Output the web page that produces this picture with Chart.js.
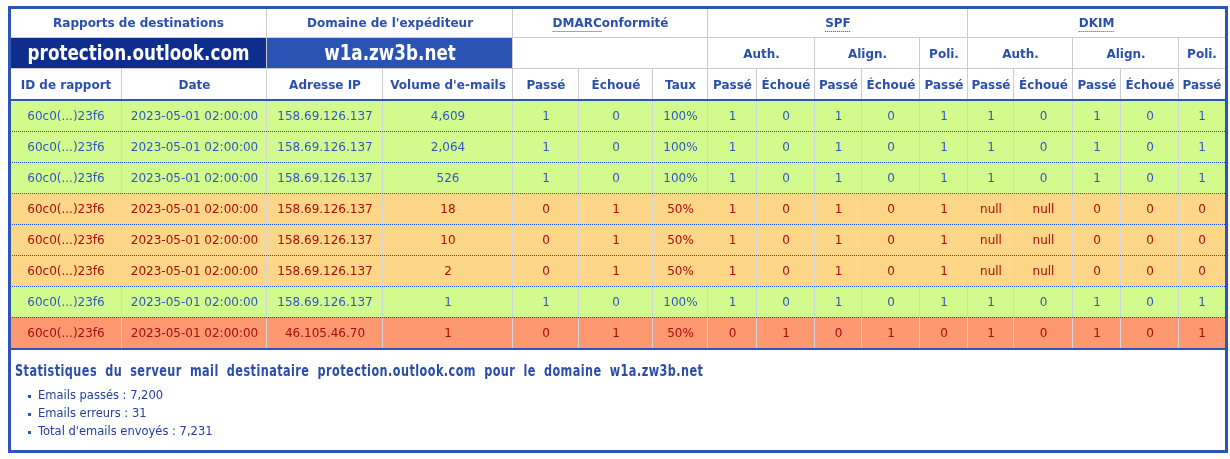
<!DOCTYPE html>
<html>
<head>
<meta charset="utf-8">
<script src="https://cdn.jsdelivr.net/npm/chart.js@4.4.0/dist/chart.umd.min.js"></script>
<style>
  html, body { margin: 0; padding: 0; background: #fff; }
  canvas { display: block; }
</style>
</head>
<body>
<canvas id="dmarc" width="1230" height="459"></canvas>
<script>
// --- data ---
var destination = 'protection.outlook.com';
var senderDomain = 'w1a.zw3b.net';

var reportIds = ['60c0(...)23f6', '60c0(...)23f6', '60c0(...)23f6', '60c0(...)23f6',
                 '60c0(...)23f6', '60c0(...)23f6', '60c0(...)23f6', '60c0(...)23f6'];
var dates = ['2023-05-01 02:00:00', '2023-05-01 02:00:00', '2023-05-01 02:00:00', '2023-05-01 02:00:00',
             '2023-05-01 02:00:00', '2023-05-01 02:00:00', '2023-05-01 02:00:00', '2023-05-01 02:00:00'];
var ipAddresses = ['158.69.126.137', '158.69.126.137', '158.69.126.137', '158.69.126.137',
                   '158.69.126.137', '158.69.126.137', '158.69.126.137', '46.105.46.70'];
var volumes = [4609, 2064, 526, 18, 10, 2, 1, 1];
var dmarcPass = [1, 1, 1, 0, 0, 0, 1, 0];
var dmarcFail = [0, 0, 0, 1, 1, 1, 0, 1];
var dmarcRate = ['100%', '100%', '100%', '50%', '50%', '50%', '100%', '50%'];
var spfAuthPass = [1, 1, 1, 1, 1, 1, 1, 0];
var spfAuthFail = [0, 0, 0, 0, 0, 0, 0, 1];
var spfAlignPass = [1, 1, 1, 1, 1, 1, 1, 0];
var spfAlignFail = [0, 0, 0, 0, 0, 0, 0, 1];
var spfPolicyPass = [1, 1, 1, 1, 1, 1, 1, 0];
var dkimAuthPass = [1, 1, 1, null, null, null, 1, 1];
var dkimAuthFail = [0, 0, 0, null, null, null, 0, 0];
var dkimAlignPass = [1, 1, 1, 0, 0, 0, 1, 1];
var dkimAlignFail = [0, 0, 0, 0, 0, 0, 0, 0];
var dkimPolicyPass = [1, 1, 1, 0, 0, 0, 1, 1];

// header texts
var groupHeaders = ['Rapports de destinations', "Domaine de l'expéditeur", 'DMARConformité', 'SPF', 'DKIM'];
var groupAbbr = ['', '', 'DMARC', 'SPF', 'DKIM'];
var groupSpans = [2, 2, 3, 5, 5];
var subHeaders = [destination, senderDomain, '', 'Auth.', 'Align.', 'Poli.', 'Auth.', 'Align.', 'Poli.'];
var subSpans = [2, 2, 3, 2, 2, 1, 2, 2, 1];
var columnHeaders = ['ID de rapport', 'Date', 'Adresse IP', "Volume d'e-mails",
                     'Passé', 'Échoué', 'Taux', 'Passé', 'Échoué', 'Passé', 'Échoué', 'Passé',
                     'Passé', 'Échoué', 'Passé', 'Échoué', 'Passé'];

// layout: column widths (x scale units)
var columnWidths = [112, 145, 116, 130, 66, 74, 55, 49, 58, 47, 58, 48, 46, 59, 48, 58, 46];

var edges = [0];
columnWidths.forEach(function(w) { edges.push(edges[edges.length - 1] + w); });
var tableWidth = edges[edges.length - 1];

var rowKeys = ['g', 's', 'c'].concat(reportIds.map(function(_, i) { return 'r' + i; }));

function rowStatus(i) {
    if (dmarcPass[i]) return 'pass';
    return spfAuthPass[i] ? 'partial' : 'fail';
}

var fills = {pass: '#d3fa8c', partial: '#fed687', fail: '#fe9870'};
var inks = {pass: '#3058c4', partial: '#a80c0c', fail: '#a80c0c'};
var HEAD_INK = '#2b4fae';
var FRAME = '#2d55b5';

function spanCells(texts, spans, key, kind) {
    var cells = [], col = 0;
    texts.forEach(function(t, i) {
        cells.push({x: [edges[col], edges[col + spans[i]]], y: key, text: t, kind: kind, idx: i});
        col += spans[i];
    });
    return cells;
}

var columns = [reportIds, dates, ipAddresses,
    volumes.map(function(v) { return v.toLocaleString('en-US'); }),
    dmarcPass, dmarcFail, dmarcRate,
    spfAuthPass, spfAuthFail, spfAlignPass, spfAlignFail, spfPolicyPass,
    dkimAuthPass, dkimAuthFail, dkimAlignPass, dkimAlignFail, dkimPolicyPass];

var rows = [
    spanCells(groupHeaders, groupSpans, 'g', 'g'),
    spanCells(subHeaders, subSpans, 's', 's'),
    spanCells(columnHeaders, columnWidths.map(function() { return 1; }), 'c', 'c')
];
reportIds.forEach(function(_, r) {
    var texts = columns.map(function(col) { return col[r] === null ? 'null' : String(col[r]); });
    var cells = spanCells(texts, columnWidths.map(function() { return 1; }), 'r' + r, 'd');
    cells.forEach(function(c) { c.status = rowStatus(r); });
    rows.push(cells);
});

function drawSqueezed(ctx, text, cx, cy, sx) {
    ctx.save();
    ctx.translate(cx, cy);
    ctx.scale(sx, 1);
    ctx.fillText(text, 0, 0);
    ctx.restore();
}

function drawTracked(ctx, text, x, y, sx, track, wordGap) {
    ctx.save();
    ctx.translate(x, y);
    ctx.scale(sx, 1);
    var cx = 0;
    for (var ch of text) {
        ctx.fillText(ch, cx, 0);
        cx += ctx.measureText(ch).width + (ch === ' ' ? wordGap : track);
    }
    ctx.restore();
}

var tablePlugin = {
    id: 'tableDecor',
    afterDatasetsDraw: function(chart) {
        var ctx = chart.ctx, area = chart.chartArea, yScale = chart.scales.y;
        var band = yScale.getPixelForValue(1) - yScale.getPixelForValue(0);
        ctx.save();

        // cell texts
        ctx.textAlign = 'center';
        ctx.textBaseline = 'middle';
        chart.data.datasets.forEach(function(ds, di) {
            var meta = chart.getDatasetMeta(di);
            meta.data.forEach(function(el, j) {
                var c = ds.data[j];
                if (!c.text) return;
                var p = el.getProps(['x', 'base', 'y'], true);
                var cx = (p.x + p.base) / 2, cy = p.y + 1.5;
                if (c.kind === 's' && c.idx < 2) {
                    ctx.fillStyle = '#ffffff';
                    ctx.font = 'bold 21px "DejaVu Sans"';
                    drawSqueezed(ctx, c.text, cx, cy - 0.5, 0.8);
                } else if (c.kind === 'd') {
                    ctx.fillStyle = inks[c.status];
                    ctx.font = '12px "DejaVu Sans"';
                    ctx.fillText(c.text, cx, cy);
                } else {
                    ctx.fillStyle = HEAD_INK;
                    ctx.font = 'bold 12px "DejaVu Sans"';
                    ctx.fillText(c.text, cx, cy);
                    var abbr = c.kind === 'g' ? groupAbbr[c.idx] : '';
                    if (abbr) {
                        var w = ctx.measureText(c.text).width;
                        var aw = ctx.measureText(abbr).width;
                        var x0 = cx - w / 2;
                        var uy = Math.round(cy + 7) + 0.5;
                        ctx.save();
                        ctx.strokeStyle = HEAD_INK;
                        ctx.lineWidth = 1;
                        ctx.setLineDash([1, 1]);
                        ctx.beginPath();
                        ctx.moveTo(x0, uy);
                        ctx.lineTo(x0 + aw, uy);
                        ctx.stroke();
                        ctx.restore();
                    }
                }
            });
        });

        // dotted separators between data rows
        ctx.strokeStyle = '#1f55e0';
        ctx.lineWidth = 1;
        ctx.setLineDash([1, 1]);
        for (var r = 3; r < rowKeys.length - 1; r++) {
            var b = Math.round(yScale.getPixelForValue(r) + band / 2) + 0.5;
            ctx.beginPath();
            ctx.moveTo(area.left, b);
            ctx.lineTo(area.right, b);
            ctx.stroke();
        }
        ctx.setLineDash([]);

        // header / table bottom rules
        ctx.fillStyle = FRAME;
        var hb = Math.round(yScale.getPixelForValue(2) + band / 2);
        ctx.fillRect(area.left, hb - 1, area.right - area.left, 2);
        ctx.fillRect(area.left, area.bottom, area.right - area.left, 2);

        // outer frame
        ctx.strokeStyle = FRAME;
        ctx.lineWidth = 3;
        var fl = area.left - 0.5, ft = area.top + 0.5;
        ctx.strokeRect(fl, ft, area.right + 1.5 - fl, chart.height - 7.5 - ft);

        // stats block under the table
        var passed = 0, failed = 0;
        volumes.forEach(function(v, i) { if (dmarcPass[i]) passed += v; else failed += v; });
        var title = 'Statistiques du serveur mail destinataire ' + destination + ' pour le domaine ' + senderDomain;
        ctx.textAlign = 'left';
        ctx.textBaseline = 'alphabetic';
        ctx.fillStyle = '#2a4daa';
        ctx.font = 'bold 15px "DejaVu Sans"';
        drawTracked(ctx, title, area.left + 5, area.bottom + 28, 0.75, 0.6, 5.6);

        var items = ['Emails passés : ' + passed.toLocaleString('en-US'),
                     'Emails erreurs : ' + failed.toLocaleString('en-US'),
                     "Total d'emails envoyés : " + (passed + failed).toLocaleString('en-US')];
        ctx.font = '11.5px "DejaVu Sans"';
        ctx.textBaseline = 'middle';
        items.forEach(function(t, i) {
            var y = area.bottom + 48 + i * 18;
            ctx.fillStyle = '#2f55b5';
            ctx.fillRect(area.left + 18, Math.round(y) - 1, 3, 3);
            ctx.fillStyle = '#22409a';
            ctx.fillText(t, area.left + 28, y);
        });
        ctx.restore();
    }
};

function cellFill(c) {
    if (c.kind === 'd') return fills[c.status];
    if (c.kind === 's' && c.idx === 0) return '#0d2e8c';
    if (c.kind === 's' && c.idx === 1) return '#2b53b4';
    return '#ffffff';
}

var datasets = rows.map(function(cells, r) {
    return {
        label: rowKeys[r],
        data: cells,
        backgroundColor: function(ctx) { return cellFill(ctx.raw); },
        borderColor: function(ctx) { return ctx.raw.kind === 'd' ? '#d3d6de' : '#cccccc'; },
        borderWidth: function(ctx) {
            var c = ctx.raw;
            var right = c.x[1] === tableWidth ? 0 : 1;
            var bottom = (c.kind === 'g' || c.kind === 's') ? 1 : 0;
            return {top: 0, left: 0, right: right, bottom: bottom};
        },
        borderSkipped: false,
        inflateAmount: 0,
        grouped: false,
        barPercentage: 1,
        categoryPercentage: 1
    };
});

new Chart(document.getElementById('dmarc'), {
    type: 'bar',
    data: {labels: rowKeys, datasets: datasets},
    options: {
        indexAxis: 'y',
        responsive: false,
        animation: false,
        events: [],
        layout: {padding: {left: 10, right: 5, top: 7, bottom: 111}},
        scales: {
            x: {type: 'linear', min: 0, max: tableWidth, display: false},
            y: {type: 'category', labels: rowKeys, display: false, offset: true}
        },
        plugins: {legend: {display: false}, tooltip: {enabled: false}}
    },
    plugins: [tablePlugin]
});
</script>
</body>
</html>
